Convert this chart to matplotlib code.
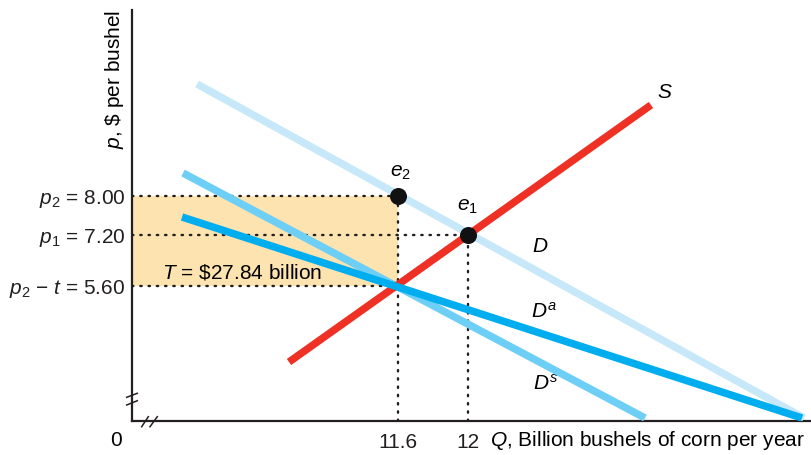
import numpy as np
import matplotlib
matplotlib.use("Agg")
import matplotlib.pyplot as plt

plt.rcParams['font.family'] = ['Liberation Sans', 'DejaVu Sans']
plt.rcParams['mathtext.fontset'] = 'custom'
plt.rcParams['mathtext.rm'] = 'Liberation Sans'
plt.rcParams['mathtext.it'] = 'Liberation Sans:italic'

# diagram units (the axes are broken, so the price / quantity scales are schematic)
q_ticks = [26.6, 33.6]
q_labels = ['11.6', '12']
p_ticks = [22.5, 18.6, 13.5]
p_labels = [r'$p_2$ = 8.00', r'$p_1$ = 7.20', '$p_2$ \u2212 $t$ = 5.60']

# curve end points
D_x, D_y = [6.5, 67.2], [33.7, 0.3]
S_x, S_y = [15.7, 51.9], [5.9, 31.6]
Ds_x, Ds_y = [5.1, 51.3], [24.8, 0.3]
Da_x, Da_y = [5.0, 67.0], [20.4, 0.3]

# equilibria
e_names = [r'$e_2$', r'$e_1$']
e_x = [26.6, 33.6]
e_y = [22.5, 18.6]

tax_text = r'$T$ = \$27.84 billion'

c_D = '#c6e8f8'
c_S = '#ee3124'
c_Ds = '#6dcff6'
c_Da = '#00aeef'
c_fill = '#fde3b0'
c_ax = '#231f20'

fig = plt.figure(figsize=(8.11, 4.55), dpi=100)
ax = fig.add_axes([132/811, 34/455, 679/811, 411/455])
ax.set_xlim(0, 67.9)
ax.set_ylim(0, 41.1)

for s in ['top', 'right']:
    ax.spines[s].set_visible(False)
for s in ['left', 'bottom']:
    ax.spines[s].set_linewidth(1.6)
    ax.spines[s].set_color(c_ax)

# tax revenue box
ax.fill_between([0, e_x[0]], p_ticks[2], p_ticks[0], color=c_fill, lw=0, zorder=1)

# dotted guides
dot = dict(color=c_ax, lw=1.7, linestyle=(0, (0.6, 2.9)), dash_capstyle='round', zorder=2)
ax.plot([0, e_x[0]], [p_ticks[0]] * 2, **dot)
ax.plot([0, e_x[1]], [p_ticks[1]] * 2, **dot)
ax.plot([0, e_x[0]], [p_ticks[2]] * 2, **dot)
ax.plot([e_x[0]] * 2, [0, e_y[0]], **dot)
ax.plot([e_x[1]] * 2, [0, e_y[1]], **dot)

lw = 5.4
ax.plot(D_x, D_y, color=c_D, lw=lw, solid_capstyle='butt', zorder=3)
ax.plot(Ds_x, Ds_y, color=c_Ds, lw=lw, solid_capstyle='butt', zorder=4)
ax.plot(S_x, S_y, color=c_S, lw=lw, solid_capstyle='butt', zorder=5)
ax.plot(Da_x, Da_y, color=c_Da, lw=lw, solid_capstyle='butt', zorder=6)

ax.scatter(e_x, e_y, s=150, color='#111111', zorder=8, linewidths=0)

fs = 15
ax.text(e_x[0] + 0.2, e_y[0] + 2.4, e_names[0], fontsize=fs, ha='center', va='center')
ax.text(e_x[1] - 0.1, e_y[1] + 2.8, e_names[1], fontsize=fs, ha='center', va='center')
ax.text(53.3, 32.8, r'$S$', fontsize=fs, ha='center', va='center')
ax.text(40.8, 17.4, r'$D$', fontsize=fs, ha='center', va='center')
ax.text(41.2, 10.9, r'$D^a$', fontsize=fs, ha='center', va='center')
ax.text(41.4, 3.7, r'$D^s$', fontsize=fs, ha='center', va='center')
ax.text(3.0, 14.9, tax_text, fontsize=fs, ha='left', va='center')

ax.set_yticks(p_ticks, p_labels)
ax.set_xticks(q_ticks, q_labels)
ax.tick_params(axis='both', length=0, labelsize=fs, colors=c_ax)
ax.tick_params(axis='y', pad=5)
ax.tick_params(axis='x', pad=9)

ax.text(-1.6, -1.9, '0', fontsize=fs, ha='center', va='center', clip_on=False)
ax.text(35.8, -1.9, r'$Q$, Billion bushels of corn per year', fontsize=fs,
        ha='left', va='center', clip_on=False)
ax.text(-1.7, 41.1, r'$p$, \$ per bushel', fontsize=fs, rotation=90,
        ha='center', va='top', clip_on=False)

# axis break marks
brk = dict(color=c_ax, lw=1.1, clip_on=False, zorder=9)
ax.plot([-0.53, 0.53], [2.37, 2.77], **brk)
ax.plot([-0.53, 0.53], [1.6, 2.03], **brk)
ax.plot([0.97, 1.63], [-0.57, 0.43], **brk)
ax.plot([1.8, 2.53], [-0.57, 0.43], **brk)

fig.savefig('out.png', dpi=100)
